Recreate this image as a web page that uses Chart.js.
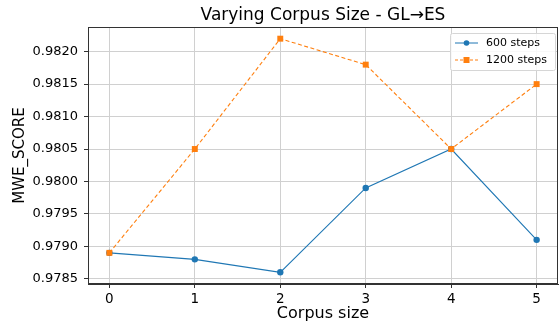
<!DOCTYPE html>
<html>
<head>
<meta charset="utf-8">
<style>
  html, body { margin: 0; padding: 0; background: #fff; }
  #wrap { width: 559px; height: 323px; }
</style>
<script src="https://cdn.jsdelivr.net/npm/chart.js@4/dist/chart.umd.min.js"></script>
</head>
<body>
<div id="wrap"><canvas id="corpus-chart" width="559" height="323"></canvas></div>
<script>
(function() {

  var corpusSizes = [0, 1, 2, 3, 4, 5];
  var steps600 = [0.9789, 0.9788, 0.9786, 0.9799, 0.9805, 0.9791];
  var steps1200 = [0.9789, 0.9805, 0.9822, 0.9818, 0.9805, 0.9815];
  var yTicks = [0.9785, 0.9790, 0.9795, 0.9800, 0.9805, 0.9810, 0.9815, 0.9820];
  var seriesNames = ['600 steps', '1200 steps'];
  var chartTitle = 'Varying Corpus Size - GL\u2192ES';

  var FONT = 'DejaVu Sans';
  var BLUE = '#1f77b4';
  var ORANGE = '#ff7f0e';

  function toPoints(values) {
    return corpusSizes.map(function(x, i) { return { x: x, y: values[i] }; });
  }

  // matplotlib-style 5% margins around the data
  var allY = steps600.concat(steps1200);
  var yLo = Math.min.apply(null, allY), yHi = Math.max.apply(null, allY);
  var yPad = (yHi - yLo) * 0.05;
  var xPad = (corpusSizes[corpusSizes.length - 1] - corpusSizes[0]) * 0.05;

  // title over the plot area, frame on all four sides, boxed legend upper right
  var framePlugin = {
    id: 'frame',
    afterDraw: function(chart) {
      var ctx = chart.ctx, a = chart.chartArea;
      ctx.save();
      ctx.fillStyle = '#000';
      ctx.font = '17px "' + FONT + '"';
      ctx.textAlign = 'center';
      ctx.textBaseline = 'middle';
      ctx.fillText(chartTitle, (a.left + a.right) / 2, 16);
      ctx.textAlign = 'left';

      ctx.strokeStyle = '#333';
      ctx.lineWidth = 1;
      ctx.strokeRect(Math.round(a.left) + 0.5, Math.round(a.top) + 0.5,
        Math.round(a.right - a.left) - 1, Math.round(a.bottom - a.top) - 1);

      var bx = a.right - 108, by = a.top + 6, bw = 105, bh = 37;
      ctx.fillStyle = 'rgba(255,255,255,0.85)';
      ctx.strokeStyle = '#d6d6d6';
      ctx.beginPath();
      ctx.roundRect(bx + 0.5, by + 0.5, bw, bh, 2);
      ctx.fill();
      ctx.stroke();

      var items = [
        { label: seriesNames[0], color: BLUE, dash: [], marker: 'circle' },
        { label: seriesNames[1], color: ORANGE, dash: [3, 2], marker: 'square' }
      ];
      ctx.font = '11px "' + FONT + '"';
      items.forEach(function(it, i) {
        var cy = by + 10 + i * 17;
        ctx.strokeStyle = it.color;
        ctx.lineWidth = 1;
        ctx.setLineDash(it.dash);
        ctx.beginPath();
        ctx.moveTo(bx + 5, cy);
        ctx.lineTo(bx + 28, cy);
        ctx.stroke();
        ctx.setLineDash([]);
        ctx.fillStyle = it.color;
        if (it.marker === 'circle') {
          ctx.beginPath();
          ctx.arc(bx + 16.5, cy, 2.8, 0, Math.PI * 2);
          ctx.fill();
        } else {
          ctx.fillRect(bx + 13.5, cy - 3, 6, 6);
        }
        ctx.fillStyle = '#000';
        ctx.fillText(it.label, bx + 36, cy);
      });
      ctx.restore();
    }
  };

  var ctx = document.getElementById('corpus-chart').getContext('2d');
  new Chart(ctx, {
    type: 'line',
    data: {
      datasets: [
        {
          label: seriesNames[0],
          data: toPoints(steps600),
          borderColor: BLUE,
          backgroundColor: BLUE,
          borderWidth: 1.1,
          pointStyle: 'circle',
          pointRadius: 3.2,
          pointBorderWidth: 0,
          order: 1
        },
        {
          label: seriesNames[1],
          data: toPoints(steps1200),
          borderColor: ORANGE,
          backgroundColor: ORANGE,
          borderWidth: 1.1,
          borderDash: [4, 2.5],
          pointStyle: 'rect',
          pointRadius: 4.2,
          pointBorderWidth: 0,
          order: 0
        }
      ]
    },
    options: {
      responsive: false,
      animation: false,
      layout: { autoPadding: false, padding: { left: 0, right: 1, top: 27, bottom: 0 } },
      plugins: {
        legend: { display: false },
        tooltip: { enabled: false },
        title: { display: false }
      },
      scales: {
        x: {
          type: 'linear',
          min: corpusSizes[0] - xPad,
          max: corpusSizes[corpusSizes.length - 1] + xPad,
          afterBuildTicks: function(axis) {
            axis.ticks = corpusSizes.map(function(v) { return { value: v }; });
          },
          afterFit: function(axis) {
            axis.height = 39;
            axis.paddingLeft = 0;
            axis.paddingRight = 0;
          },
          ticks: {
            color: '#000',
            font: { family: FONT, size: 13.5 },
            padding: 3,
            maxRotation: 0,
            callback: function(v) { return String(v); }
          },
          grid: { color: '#d0d0d0', lineWidth: 1, tickLength: 4, tickColor: '#333' },
          border: { color: '#333' },
          title: {
            display: true,
            text: 'Corpus size',
            color: '#000',
            font: { family: FONT, size: 16 },
            padding: { top: 0, bottom: 0 }
          }
        },
        y: {
          min: yLo - yPad,
          max: yHi + yPad,
          afterBuildTicks: function(axis) {
            axis.ticks = yTicks.map(function(v) { return { value: v }; });
          },
          afterFit: function(axis) {
            axis.width = 88;
            axis.paddingTop = 0;
            axis.paddingBottom = 0;
          },
          ticks: {
            color: '#000',
            font: { family: FONT, size: 13 },
            padding: 6,
            callback: function(v) { return v.toFixed(4); }
          },
          grid: { color: '#d0d0d0', lineWidth: 1, tickLength: 4, tickColor: '#333' },
          border: { color: '#333' },
          title: {
            display: true,
            text: 'MWE_SCORE',
            color: '#000',
            font: { family: FONT, size: 15 },
            padding: { top: 11, bottom: 2 }
          }
        }
      }
    },
    plugins: [framePlugin]
  });

})();
</script>
</body>
</html>
